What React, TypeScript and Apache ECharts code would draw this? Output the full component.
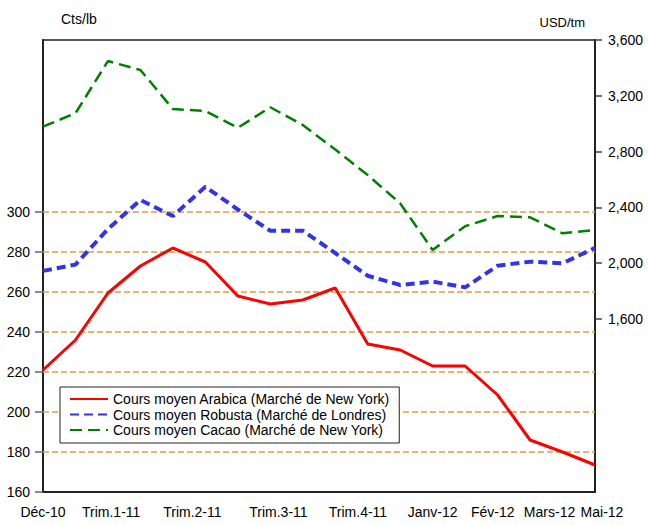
import React, { useEffect, useRef } from "react";
import * as echarts from "echarts";

const months = [
  "Déc-10", "Janv-11", "Fév-11", "Mars-11", "Avr-11", "Mai-11", "Juin-11", "Juil-11", "Août-11",
  "Sept-11", "Oct-11", "Nov-11", "Déc-11", "Janv-12", "Fév-12", "Mars-12", "Avr-12", "Mai-12",
];
const arabica = [221, 236, 259.5, 273, 282, 275, 258, 254, 256, 262, 234, 231, 223, 223, 208.5, 186, 180, 173.5];
const robusta = [1945, 1990, 2245, 2453, 2338, 2548, 2385, 2233, 2233, 2073, 1910, 1844, 1868, 1827, 1982, 2011, 1999, 2110];
const cacao = [2979, 3075, 3449, 3385, 3105, 3091, 2971, 3118, 2991, 2815, 2632, 2429, 2095, 2265, 2338, 2329, 2214, 2238];

const xTickLabels = ["Déc-10", "Trim.1-11", "Trim.2-11", "Trim.3-11", "Trim.4-11", "Janv-12", "Fév-12", "Mars-12", "Mai-12"];
const xTickPositions = [0, 2.1, 4.6, 7.25, 9.7, 12, 13.85, 15.6, 17];
const leftTicks = [160, 180, 200, 220, 240, 260, 280, 300];
const leftGridLines = [180, 200, 220, 240, 260, 280, 300];
const rightTicks = [1600, 2000, 2400, 2800, 3200, 3600];

const seriesNames = [
  "Cours moyen Arabica (Marché de New York)",
  "Cours moyen Robusta (Marché de Londres)",
  "Cours moyen Cacao (Marché de New York)",
];

const FONT = "Liberation Sans, Arial, sans-serif";

export default function App() {
  const ref = useRef<HTMLDivElement>(null);
  useEffect(() => {
    document.body.style.margin = "0";
    const chart = echarts.init(ref.current!, null, { renderer: "svg" });
    const axisLineStyle = { color: "#222", width: 2 };
    chart.setOption({
      animation: false,
      backgroundColor: "#fff",
      textStyle: { fontFamily: FONT },
      grid: {
        left: 43, right: 53, top: 40, bottom: 33,
        show: true, borderColor: "#222", borderWidth: 1.5, backgroundColor: "transparent",
      },
      legend: {
        orient: "vertical",
        left: 60, top: 387,
        data: seriesNames,
        itemWidth: 38, itemHeight: 14, itemGap: 1.5,
        padding: [5, 9, 6, 9],
        borderColor: "#222", borderWidth: 1, backgroundColor: "#fff",
        itemStyle: { opacity: 0 },
        textStyle: { fontFamily: FONT, fontSize: 14, color: "#000", lineHeight: 14 },
        selectedMode: false,
      },
      xAxis: [
        {
          type: "category", data: months, boundaryGap: false,
          axisLine: { show: true, lineStyle: axisLineStyle },
          axisTick: { show: false }, axisLabel: { show: false }, splitLine: { show: false },
        },
        {
          type: "value", min: 0, max: 17, position: "bottom",
          axisLine: { show: false }, axisTick: { show: false }, splitLine: { show: false },
          axisLabel: {
            customValues: xTickPositions,
            margin: 13, fontSize: 14, color: "#000", fontFamily: FONT,
            formatter: (v: number) => {
              const i = xTickPositions.findIndex((p) => Math.abs(p - v) < 1e-6);
              const t = i >= 0 ? xTickLabels[i] : "";
              return i === xTickLabels.length - 1 ? "{r|" + t + "}" : t;
            },
            rich: { r: { fontSize: 14, fontFamily: FONT, color: "#000", padding: [0, 0, 0, 14] } },
          },
        },
      ],
      yAxis: [
        {
          type: "value", min: 160, max: 386, position: "left",
          name: "Cts/lb", nameLocation: "end", nameGap: 14,
          nameTextStyle: { fontFamily: FONT, fontSize: 14, color: "#000", align: "left", padding: [0, 0, 0, 18] },
          axisLine: { show: true, lineStyle: axisLineStyle },
          axisTick: { show: true, customValues: leftTicks, length: 8, lineStyle: { color: "#666", width: 1.5 } },
          axisLabel: { customValues: leftTicks, margin: 13, fontSize: 14, color: "#000", fontFamily: FONT },
          splitLine: { show: false },
        },
        {
          type: "value", min: 360, max: 3600, position: "right",
          name: "USD/tm", nameLocation: "end", nameGap: 11,
          nameTextStyle: { fontFamily: FONT, fontSize: 13, color: "#000", align: "right", padding: [0, 10, 0, 0] },
          axisLine: { show: true, lineStyle: axisLineStyle },
          axisTick: { show: true, customValues: rightTicks, length: 7, lineStyle: { color: "#444", width: 1.5 } },
          axisLabel: {
            customValues: rightTicks, margin: 13, fontSize: 14, color: "#000", fontFamily: FONT,
            formatter: (v: number) => v.toLocaleString("en-US"),
          },
          splitLine: { show: false },
        },
      ],
      series: [
        {
          name: seriesNames[0], type: "line", xAxisIndex: 0, yAxisIndex: 0, data: arabica,
          symbol: "none", lineStyle: { color: "#FF0000", width: 3 }, itemStyle: { color: "#FF0000" }, z: 4,
          markLine: {
            silent: true, symbol: "none", z: 1, label: { show: false },
            lineStyle: { color: "#DE9C48", type: [6, 3], width: 1.5 },
            data: leftGridLines.map((v) => ({ yAxis: v })),
          },
        },
        {
          name: seriesNames[1], type: "line", xAxisIndex: 0, yAxisIndex: 1, data: robusta,
          symbol: "none", lineStyle: { color: "#3333E8", width: 4, type: [9, 5] }, itemStyle: { color: "#3333E8" }, z: 4,
        },
        {
          name: seriesNames[2], type: "line", xAxisIndex: 0, yAxisIndex: 1, data: cacao,
          symbol: "none", lineStyle: { color: "#008000", width: 2.5, type: [12, 6] }, itemStyle: { color: "#008000" }, z: 4,
        },
      ],
    });
    return () => chart.dispose();
  }, []);
  return <div ref={ref} style={{ position: "absolute", left: 0, top: 0, width: 648, height: 525 }} />;
}
